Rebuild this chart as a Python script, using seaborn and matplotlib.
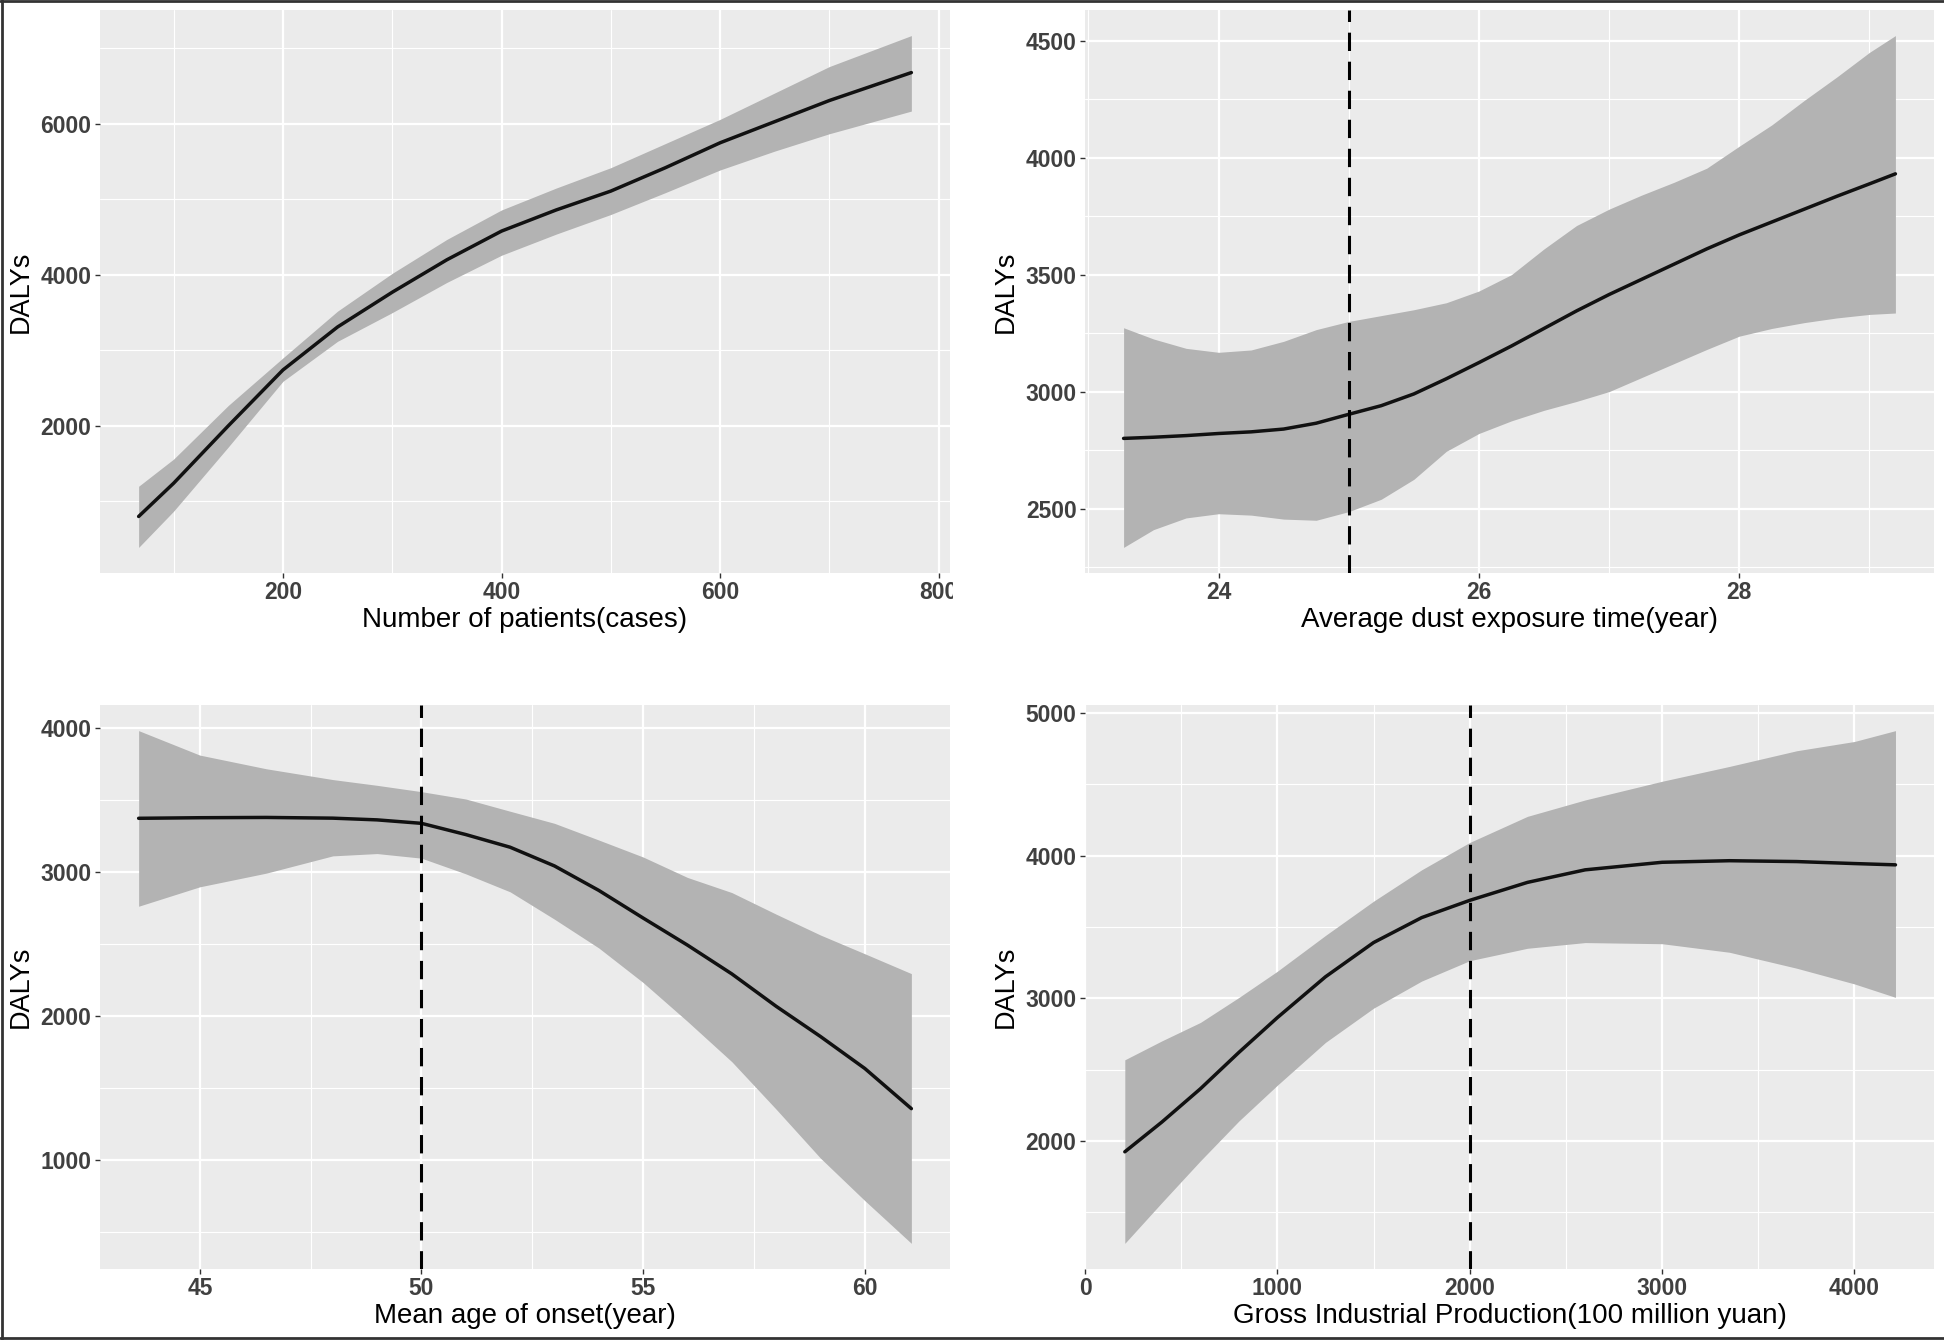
import numpy as np
import matplotlib
matplotlib.use("Agg")
import matplotlib.pyplot as plt
from matplotlib.lines import Line2D
from matplotlib.transforms import Bbox, TransformedBbox
import pandas as pd
import seaborn as sns

# panel 1 - number of patients
p1_x = [68, 100, 150, 200, 250, 300, 350, 400, 450, 500, 550, 600, 650, 700, 775]
p1_fit = [800, 1240, 2000, 2740, 3310, 3770, 4200, 4580, 4860, 5110, 5420, 5750, 6030, 6310, 6680]
p1_hi = [1200, 1560, 2270, 2900, 3520, 4020, 4470, 4860, 5150, 5420, 5740, 6060, 6410, 6760, 7170]
p1_lo = [390, 870, 1720, 2590, 3120, 3500, 3900, 4260, 4540, 4800, 5090, 5390, 5640, 5870, 6170]

# panel 2 - dust exposure time
p2_x = [23.27, 23.5, 23.75, 24.0, 24.25, 24.5, 24.75, 25.0, 25.25, 25.5, 25.75, 26.0, 26.25,
        26.5, 26.75, 27.0, 27.25, 27.5, 27.75, 28.0, 28.25, 28.5, 28.75, 29.0, 29.2]
p2_fit = [2800, 2805, 2812, 2821, 2828, 2840, 2865, 2903, 2940, 2990, 3055, 3124, 3195,
          3270, 3345, 3415, 3480, 3545, 3610, 3670, 3725, 3780, 3835, 3888, 3931]
p2_hi = [3273, 3225, 3185, 3168, 3178, 3215, 3265, 3300, 3325, 3350, 3380, 3430, 3500,
         3610, 3710, 3780, 3840, 3895, 3955, 4049, 4140, 4245, 4345, 4450, 4522]
p2_lo = [2334, 2410, 2460, 2478, 2472, 2455, 2450, 2487, 2540, 2625, 2745, 2821, 2875,
         2920, 2958, 3000, 3060, 3120, 3180, 3237, 3270, 3295, 3315, 3330, 3336]

# panel 3 - mean age of onset
p3_x = [43.62, 45, 46.5, 48, 49, 50, 51, 52, 53, 54, 55, 56, 57, 58, 59, 60, 61.05]
p3_fit = [3371, 3375, 3377, 3372, 3360, 3336, 3258, 3170, 3040, 2870, 2678, 2490, 2290, 2065, 1855, 1633, 1354]
p3_hi = [3980, 3810, 3715, 3640, 3600, 3556, 3505, 3420, 3336, 3220, 3102, 2960, 2855, 2705, 2560, 2430, 2292]
p3_lo = [2760, 2895, 2990, 3110, 3126, 3094, 2985, 2860, 2670, 2470, 2230, 1960, 1680, 1350, 1010, 715, 418]

# panel 4 - gross industrial production
p4_x = [207, 400, 600, 800, 1000, 1250, 1500, 1750, 2000, 2300, 2600, 3000, 3350, 3700, 4000, 4213]
p4_fit = [1923, 2132, 2365, 2620, 2864, 3150, 3390, 3565, 3686, 3812, 3900, 3953, 3964, 3958, 3944, 3935]
p4_hi = [2568, 2701, 2830, 3005, 3189, 3440, 3680, 3900, 4092, 4275, 4390, 4521, 4625, 4735, 4800, 4876]
p4_lo = [1281, 1568, 1860, 2139, 2390, 2690, 2930, 3120, 3263, 3350, 3390, 3382, 3322, 3210, 3100, 3006]

sns.set_theme(style="darkgrid", rc={
    "axes.facecolor": "#EBEBEB",
    "grid.color": "white",
    "xtick.bottom": True,
    "ytick.left": True,
    "xtick.color": "#333333",
    "ytick.color": "#333333",
})
plt.rcParams["font.family"] = ["Liberation Sans", "DejaVu Sans"]

fig = plt.figure(figsize=(19.44, 13.40), dpi=100)
W, H = 1944, 1340


def make_ax(left, top, right, bottom):
    return fig.add_axes([left / W, 1 - bottom / H, (right - left) / W, (bottom - top) / H])


def panel(ax, x, fit, lo, hi, xlabel, xt, yt, xm, ym, vline=None):
    df = pd.DataFrame({"x": x, "fit": fit, "lo": lo, "hi": hi})
    ax.fill_between(df["x"], df["lo"], df["hi"], color="#b3b3b3", lw=0, zorder=2)
    sns.lineplot(data=df, x="x", y="fit", ax=ax, color="#111111", lw=2.5, zorder=3)
    if vline is not None:
        ax.axvline(vline, color="black", lw=2.2, ls=(0, (6, 3.5)), zorder=4)
    xr = df["x"].max() - df["x"].min()
    yr = df["hi"].max() - df["lo"].min()
    ax.set_xlim(df["x"].min() - 0.05 * xr, df["x"].max() + 0.05 * xr)
    ax.set_ylim(df["lo"].min() - 0.05 * yr, df["hi"].max() + 0.05 * yr)
    ax.set_xticks(xt)
    ax.set_yticks(yt)
    ax.set_xticks(xm, minor=True)
    ax.set_yticks(ym, minor=True)
    ax.grid(which="major", color="white", lw=1.6)
    ax.grid(which="minor", color="white", lw=0.8)
    ax.tick_params(which="major", length=3.6, width=1, pad=2.5, labelsize=16.5, labelcolor="#404040")
    ax.tick_params(which="minor", length=0)
    for lbl in ax.get_xticklabels() + ax.get_yticklabels():
        lbl.set_fontweight("bold")
    ax.set_xlabel(xlabel, fontsize=20, color="black", labelpad=2)
    ax.set_ylabel("DALYs", fontsize=19.5, color="black", labelpad=5)
    for s in ax.spines.values():
        s.set_visible(False)


ax1 = make_ax(100, 10, 950, 573)
ax2 = make_ax(1085, 10, 1934, 573)
ax3 = make_ax(100, 705, 950, 1269)
ax4 = make_ax(1085, 705, 1934, 1269)

panel(ax1, p1_x, p1_fit, p1_lo, p1_hi, "Number of patients(cases)",
      [200, 400, 600, 800], [2000, 4000, 6000], [100, 300, 500, 700], [1000, 3000, 5000, 7000])
panel(ax2, p2_x, p2_fit, p2_lo, p2_hi, "Average dust exposure time(year)",
      [24, 26, 28], [2500, 3000, 3500, 4000, 4500], [23, 25, 27, 29],
      [2250, 2750, 3250, 3750, 4250], vline=25)
panel(ax3, p3_x, p3_fit, p3_lo, p3_hi, "Mean age of onset(year)",
      [45, 50, 55, 60], [1000, 2000, 3000, 4000], [47.5, 52.5, 57.5],
      [500, 1500, 2500, 3500], vline=50)
panel(ax4, p4_x, p4_fit, p4_lo, p4_hi, "Gross Industrial Production(100 million yuan)",
      [0, 1000, 2000, 3000, 4000], [2000, 3000, 4000, 5000], [500, 1500, 2500, 3500],
      [1500, 2500, 3500, 4500], vline=2000)

# the "800" label is cut off at the panel edge in the original
clip = TransformedBbox(Bbox([[0, 0], [953 / W, 1]]), fig.transFigure)
last = ax1.xaxis.get_major_ticks()[-1].label1
last.set_clip_box(clip)
last.set_clip_on(True)

# thin frame round the figure (left, top, bottom)
for xs, ys in [([0.0008, 0.0008], [0, 1]), ([0, 1], [0.9993, 0.9993]), ([0, 1], [0.0012, 0.0012])]:
    fig.add_artist(Line2D(xs, ys, transform=fig.transFigure, color="#333333", lw=2))

fig.savefig("out.png", dpi=100, facecolor="white")
